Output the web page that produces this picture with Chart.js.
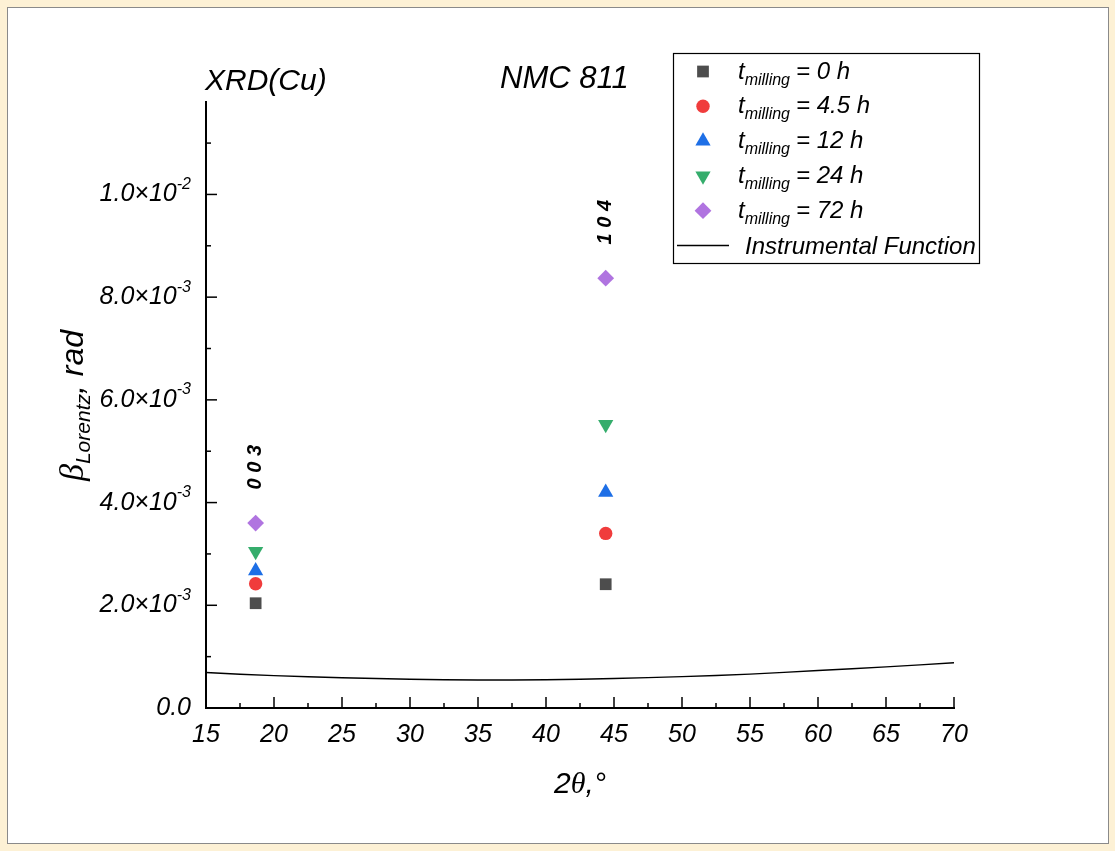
<!DOCTYPE html>
<html lang="en">
<head>
<meta charset="UTF-8">
<title>NMC 811 - Lorentz broadening</title>
<script src="https://cdn.jsdelivr.net/npm/chart.js"></script>
<style>
    html, body { margin: 0; padding: 0; background: #fdf1d5; }
    #panel {
        position: absolute; left: 7px; top: 7px; width: 1102px; height: 837px;
        box-sizing: border-box; border: 1px solid #8a8a8a; background: #fff;
    }
    #chart { display: block; }
</style>
</head>
<body>
<div id="panel"><canvas id="chart" width="1100" height="835"></canvas></div>
<script>
    // 2theta positions of the (003) and (104) reflections
    const twoTheta = [18.65, 44.39];
    // Lorentz broadening (rad) for each milling time
    const beta0h = [2.04e-3, 2.41e-3];
    const beta4h = [2.42e-3, 3.40e-3];
    const beta12h = [2.67e-3, 4.20e-3];
    const beta24h = [3.05e-3, 5.52e-3];
    const beta72h = [3.60e-3, 8.37e-3];
    const reflections = ['0 0 3', '1 0 4'];
    const reflectionY = [4.69e-3, 9.46e-3];

    // instrumental function
    const instX = [15, 20, 25, 30, 35, 40, 45, 50, 55, 60, 65, 70];
    const instY = [0.69e-3, 0.63e-3, 0.59e-3, 0.56e-3, 0.545e-3, 0.55e-3, 0.575e-3, 0.61e-3, 0.66e-3, 0.73e-3, 0.80e-3, 0.88e-3];

    const seriesLabels = ['0', '4.5', '12', '24', '72'];
    const seriesColors = ['#4d4d4d', '#f03c3c', '#1e6fe6', '#35ad6c', '#b074e0'];
    const seriesStyles = ['rect', 'circle', 'triangle', 'triangle', 'rectRot'];
    const seriesRotation = [0, 0, 0, 180, 0];
    const seriesRadius = [8.3, 6.7, 8.8, 8.8, 8.4];
    const seriesValues = [beta0h, beta4h, beta12h, beta24h, beta72h];

    const sans = '"Liberation Sans", Arial, sans-serif';
    const serif = '"Liberation Serif", "Times New Roman", serif';

    const pairs = (xs, ys) => xs.map((v, i) => ({ x: v, y: ys[i] }));

    const datasets = seriesValues.map((vals, i) => ({
        label: 't = ' + seriesLabels[i] + ' h',
        data: pairs(twoTheta, vals),
        pointStyle: seriesStyles[i],
        pointRotation: seriesRotation[i],
        pointRadius: seriesRadius[i],
        pointBackgroundColor: seriesColors[i],
        pointBorderWidth: 0,
        showLine: false
    }));
    datasets.unshift({
        label: 'Instrumental Function',
        data: pairs(instX, instY),
        showLine: true,
        borderColor: '#000',
        borderWidth: 1.4,
        pointRadius: 0,
        tension: 0.4
    });

    function drawSup(ctx, base, sup, x, y, font, supFont) {
        // right-aligned base text followed by superscript
        ctx.font = supFont;
        const sw = ctx.measureText(sup).width;
        ctx.font = font;
        const bw = ctx.measureText(base).width;
        ctx.textAlign = 'left';
        ctx.fillText(base, x - sw - bw, y);
        ctx.font = supFont;
        ctx.fillText(sup, x - sw, y - 10);
    }

    const overlay = {
        id: 'overlay',
        afterDraw(chart) {
            const ctx = chart.ctx;
            const a = chart.chartArea;
            const xs = chart.scales.x, ys = chart.scales.y;
            ctx.save();
            ctx.strokeStyle = '#000';
            ctx.fillStyle = '#000';
            ctx.lineWidth = 1.5;

            // x ticks, major every 5, minor every 2.5
            for (let i = 0; i <= 22; i++) {
                const px = xs.getPixelForValue(15 + i * 2.5);
                const len = i % 2 === 0 ? 11 : 5;
                ctx.beginPath();
                ctx.moveTo(px, a.bottom);
                ctx.lineTo(px, a.bottom - len);
                ctx.stroke();
            }
            // y ticks, major every 2e-3, minor every 1e-3
            for (let i = 0; i <= 11; i++) {
                const py = ys.getPixelForValue(i * 1e-3);
                const len = i % 2 === 0 ? 11 : 5;
                ctx.beginPath();
                ctx.moveTo(a.left, py);
                ctx.lineTo(a.left + len, py);
                ctx.stroke();
            }

            // y tick labels with powers of ten
            const tf = 'italic 25px ' + sans;
            const sf = 'italic 16px ' + sans;
            ctx.textBaseline = 'middle';
            for (let i = 0; i <= 10; i += 2) {
                const v = i * 1e-3;
                const py = ys.getPixelForValue(v);
                const rx = a.left - 15;
                if (i === 0) {
                    ctx.font = tf;
                    ctx.textAlign = 'right';
                    ctx.fillText('0.0', rx, py);
                } else {
                    const e = Math.floor(Math.log10(v) + 1e-9);
                    const m = (v / Math.pow(10, e)).toFixed(1);
                    drawSup(ctx, m + '\u00d710', '-' + (-e), rx, py, tf, sf);
                }
            }

            // reflection labels
            ctx.font = 'italic bold 20px ' + sans;
            ctx.textAlign = 'center';
            ctx.textBaseline = 'middle';
            reflections.forEach((txt, i) => {
                ctx.save();
                ctx.translate(xs.getPixelForValue(twoTheta[i]), ys.getPixelForValue(reflectionY[i]));
                ctx.rotate(-Math.PI / 2);
                ctx.fillText(txt, 0, 0);
                ctx.restore();
            });

            // titles in the plot
            ctx.textAlign = 'left';
            ctx.textBaseline = 'alphabetic';
            ctx.font = 'italic 30px ' + sans;
            ctx.fillText('XRD(Cu)', 197, 82);
            ctx.font = 'italic 31px ' + sans;
            ctx.fillText('NMC 811', 492, 80);

            // x axis title
            ctx.font = 'italic 30px ' + sans;
            const cx = (a.left + a.right) / 2;
            ctx.textAlign = 'left';
            const w2 = ctx.measureText('2').width;
            ctx.font = 'italic 30px ' + serif;
            const wt = ctx.measureText('\u03b8').width;
            ctx.font = 'italic 30px ' + sans;
            const wc = ctx.measureText(',\u00b0').width;
            let sx = cx - (w2 + wt + wc) / 2;
            const by = 785;
            ctx.fillText('2', sx, by);
            ctx.font = 'italic 30px ' + serif;
            ctx.fillText('\u03b8', sx + w2, by);
            ctx.font = 'italic 30px ' + sans;
            ctx.fillText(',\u00b0', sx + w2 + wt, by);

            // y axis title, rotated
            ctx.save();
            ctx.translate(75, 473);
            ctx.rotate(-Math.PI / 2);
            ctx.font = 'italic 34px ' + serif;
            ctx.fillText('\u03b2', 0, 0);
            let off = ctx.measureText('\u03b2').width;
            ctx.font = 'italic 21px ' + sans;
            ctx.fillText('Lorentz', off, 7);
            off += ctx.measureText('Lorentz').width;
            ctx.font = 'italic 32px ' + sans;
            ctx.fillText(', rad', off, 0);
            ctx.restore();

            // legend
            const L = 665, T = 45, W = 306, H = 210;
            ctx.fillStyle = '#fff';
            ctx.fillRect(L, T, W, H);
            ctx.lineWidth = 1.2;
            ctx.strokeStyle = '#000';
            ctx.strokeRect(L + 0.5, T + 0.5, W, H);
            const step = 34.8;
            seriesLabels.forEach((lab, i) => {
                const ry = T + 18.5 + i * step;
                ctx.fillStyle = seriesColors[i];
                Chart.helpers.drawPoint(ctx, {
                    pointStyle: seriesStyles[i], rotation: seriesRotation[i],
                    radius: seriesRadius[i], borderWidth: 0
                }, L + 30, ry);
                ctx.fillStyle = '#000';
                let tx = L + 65;
                const base = ry + 7;
                ctx.font = 'italic 24px ' + sans;
                ctx.fillText('t', tx, base);
                tx += ctx.measureText('t').width;
                ctx.font = 'italic 16px ' + sans;
                ctx.fillText('milling', tx, base + 6);
                tx += ctx.measureText('milling').width + 6;
                ctx.font = 'italic 24px ' + sans;
                ctx.fillText('= ' + lab + ' h', tx, base);
            });
            const ly = T + 18.5 + 5 * step;
            ctx.lineWidth = 1.4;
            ctx.beginPath();
            ctx.moveTo(L + 4, ly);
            ctx.lineTo(L + 56, ly);
            ctx.stroke();
            ctx.font = 'italic 24px ' + sans;
            ctx.fillText('Instrumental Function', L + 72, ly + 8);

            ctx.restore();
        }
    };

    new Chart(document.getElementById('chart'), {
        type: 'scatter',
        data: { datasets: datasets },
        options: {
            responsive: false,
            animation: false,
            layout: { padding: { left: 188, top: 94, right: 154, bottom: 75 } },
            plugins: { legend: { display: false }, tooltip: { enabled: false } },
            scales: {
                x: {
                    type: 'linear', min: 15, max: 70,
                    afterFit: s => { s.height = 60; },
                    grid: { display: false, drawTicks: false },
                    border: { display: true, color: '#000', width: 2 },
                    ticks: {
                        stepSize: 5, padding: 12, color: '#000', autoSkip: false, maxRotation: 0,
                        font: { family: sans, size: 25, style: 'italic' }
                    }
                },
                y: {
                    type: 'linear', min: 0, max: 0.0118,
                    afterFit: s => { s.width = 10; },
                    grid: { display: false, drawTicks: false },
                    border: { display: true, color: '#000', width: 2 },
                    ticks: { display: false }
                }
            }
        },
        plugins: [overlay]
    });
</script>
</body>
</html>
